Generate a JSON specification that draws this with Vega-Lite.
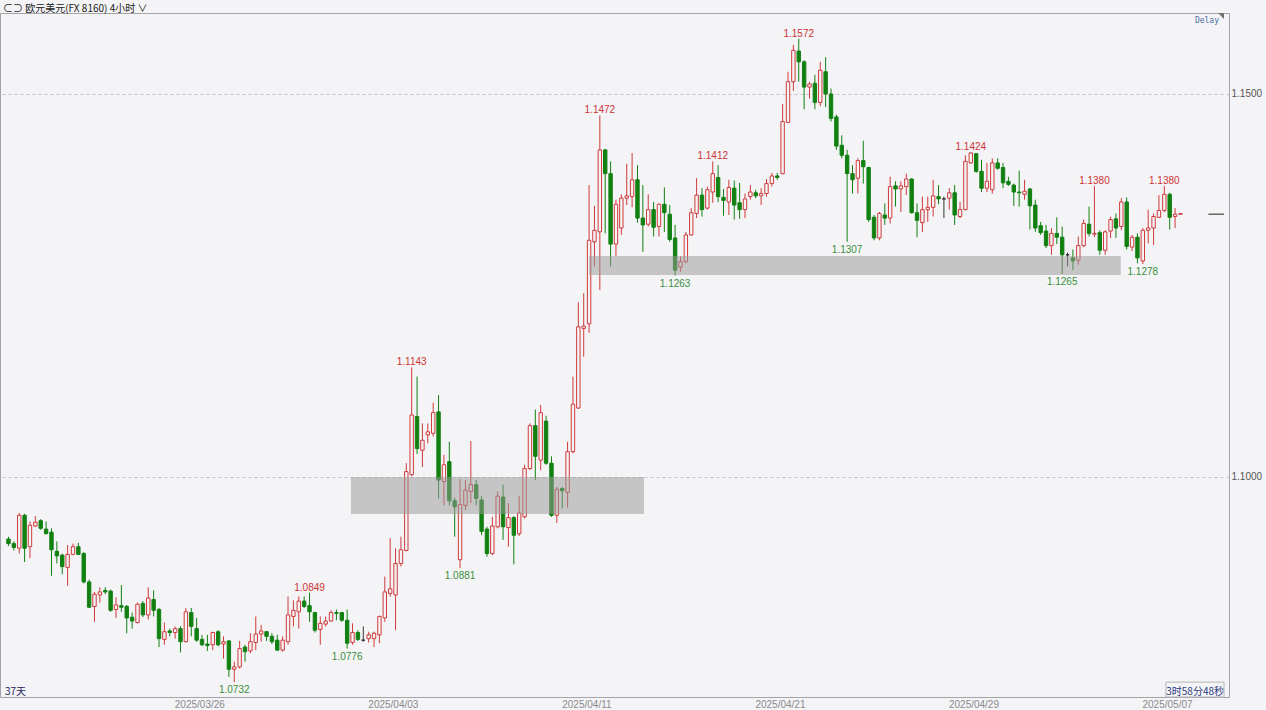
{
  "$schema": "https://vega.github.io/schema/vega-lite/v6.json",
  "width": 1229,
  "height": 684,
  "autosize": {"type": "none"},
  "padding": {"left": 0, "top": 13, "right": 37, "bottom": 13},
  "background": "#f4f4f7",
  "config": {
    "view": {"stroke": "#a4a4a8", "strokeWidth": 1},
    "font": "Liberation Sans"
  },
  "title": {
    "text": "⊂⊃ 欧元美元(FX 8160)   4小时 ∨",
    "anchor": "start",
    "frame": "group",
    "offset": 1,
    "dx": 3,
    "dy": 2,
    "fontSize": 10,
    "fontWeight": "normal",
    "font": "Noto Sans CJK SC",
    "color": "#222222"
  },
  "resolve": {"axis": {"x": "independent", "y": "independent"}},
  "datasets": {
    "candles": [
      {"i":0,"o":1.0919,"h":1.0922,"l":1.0910,"c":1.0913},
      {"i":1,"o":1.0913,"h":1.0916,"l":1.0904,"c":1.0908},
      {"i":2,"o":1.0907,"h":1.0953,"l":1.0900,"c":1.0950},
      {"i":3,"o":1.0950,"h":1.0952,"l":1.0889,"c":1.0907},
      {"i":4,"o":1.0909,"h":1.0942,"l":1.0894,"c":1.0937},
      {"i":5,"o":1.0936,"h":1.0949,"l":1.0935,"c":1.0941},
      {"i":6,"o":1.0943,"h":1.0945,"l":1.0931,"c":1.0933},
      {"i":7,"o":1.0932,"h":1.0942,"l":1.0925,"c":1.0926},
      {"i":8,"o":1.0928,"h":1.0933,"l":1.0871,"c":1.0905},
      {"i":9,"o":1.0903,"h":1.0916,"l":1.0887,"c":1.0897},
      {"i":10,"o":1.0898,"h":1.0900,"l":1.0873,"c":1.0883},
      {"i":11,"o":1.0882,"h":1.0911,"l":1.0858,"c":1.0899},
      {"i":12,"o":1.0899,"h":1.0913,"l":1.0898,"c":1.0909},
      {"i":13,"o":1.0909,"h":1.0914,"l":1.0898,"c":1.0899},
      {"i":14,"o":1.0900,"h":1.0902,"l":1.0861,"c":1.0863},
      {"i":15,"o":1.0863,"h":1.0866,"l":1.0829,"c":1.0830},
      {"i":16,"o":1.0831,"h":1.0850,"l":1.0811,"c":1.0847},
      {"i":17,"o":1.0846,"h":1.0856,"l":1.0836,"c":1.0850},
      {"i":18,"o":1.0852,"h":1.0856,"l":1.0847,"c":1.0850},
      {"i":19,"o":1.0851,"h":1.0853,"l":1.0824,"c":1.0826},
      {"i":20,"o":1.0827,"h":1.0843,"l":1.0816,"c":1.0833},
      {"i":21,"o":1.0832,"h":1.0859,"l":1.0824,"c":1.0830},
      {"i":22,"o":1.0831,"h":1.0833,"l":1.0796,"c":1.0816},
      {"i":23,"o":1.0817,"h":1.0823,"l":1.0802,"c":1.0812},
      {"i":24,"o":1.0810,"h":1.0836,"l":1.0809,"c":1.0834},
      {"i":25,"o":1.0835,"h":1.0838,"l":1.0817,"c":1.0820},
      {"i":26,"o":1.0820,"h":1.0856,"l":1.0814,"c":1.0842},
      {"i":27,"o":1.0840,"h":1.0852,"l":1.0818,"c":1.0826},
      {"i":28,"o":1.0827,"h":1.0829,"l":1.0778,"c":1.0789},
      {"i":29,"o":1.0788,"h":1.0810,"l":1.0781,"c":1.0798},
      {"i":30,"o":1.0799,"h":1.0802,"l":1.0792,"c":1.0797},
      {"i":31,"o":1.0797,"h":1.0805,"l":1.0789,"c":1.0802},
      {"i":32,"o":1.0802,"h":1.0805,"l":1.0771,"c":1.0785},
      {"i":33,"o":1.0785,"h":1.0829,"l":1.0784,"c":1.0824},
      {"i":34,"o":1.0823,"h":1.0829,"l":1.0792,"c":1.0805},
      {"i":35,"o":1.0802,"h":1.0816,"l":1.0785,"c":1.0787},
      {"i":36,"o":1.0788,"h":1.0794,"l":1.0779,"c":1.0781},
      {"i":37,"o":1.0782,"h":1.0794,"l":1.0773,"c":1.0780},
      {"i":38,"o":1.0781,"h":1.0798,"l":1.0774,"c":1.0797},
      {"i":39,"o":1.0798,"h":1.0800,"l":1.0779,"c":1.0781},
      {"i":40,"o":1.0782,"h":1.0792,"l":1.0763,"c":1.0785},
      {"i":41,"o":1.0786,"h":1.0787,"l":1.0739,"c":1.0749},
      {"i":42,"o":1.0749,"h":1.0759,"l":1.0732,"c":1.0752},
      {"i":43,"o":1.0752,"h":1.0786,"l":1.0750,"c":1.0776},
      {"i":44,"o":1.0778,"h":1.0781,"l":1.0759,"c":1.0772},
      {"i":45,"o":1.0773,"h":1.0796,"l":1.0770,"c":1.0785},
      {"i":46,"o":1.0784,"h":1.0818,"l":1.0774,"c":1.0795},
      {"i":47,"o":1.0795,"h":1.0807,"l":1.0785,"c":1.0799},
      {"i":48,"o":1.0798,"h":1.0799,"l":1.0786,"c":1.0792},
      {"i":49,"o":1.0792,"h":1.0796,"l":1.0782,"c":1.0785},
      {"i":50,"o":1.0787,"h":1.0794,"l":1.0773,"c":1.0774},
      {"i":51,"o":1.0774,"h":1.0792,"l":1.0772,"c":1.0787},
      {"i":52,"o":1.0785,"h":1.0844,"l":1.0781,"c":1.0820},
      {"i":53,"o":1.0818,"h":1.0839,"l":1.0805,"c":1.0826},
      {"i":54,"o":1.0824,"h":1.0844,"l":1.0802,"c":1.0838},
      {"i":55,"o":1.0838,"h":1.0844,"l":1.0829,"c":1.0831},
      {"i":56,"o":1.0832,"h":1.0849,"l":1.0811,"c":1.0824},
      {"i":57,"o":1.0823,"h":1.0824,"l":1.0797,"c":1.0800},
      {"i":58,"o":1.0801,"h":1.0818,"l":1.0781,"c":1.0809},
      {"i":59,"o":1.0808,"h":1.0818,"l":1.0805,"c":1.0812},
      {"i":60,"o":1.0812,"h":1.0826,"l":1.0811,"c":1.0823},
      {"i":61,"o":1.0823,"h":1.0827,"l":1.0813,"c":1.0822},
      {"i":62,"o":1.0823,"h":1.0824,"l":1.0811,"c":1.0813},
      {"i":63,"o":1.0813,"h":1.0827,"l":1.0776,"c":1.0783},
      {"i":64,"o":1.0784,"h":1.0809,"l":1.0781,"c":1.0797},
      {"i":65,"o":1.0797,"h":1.0800,"l":1.0786,"c":1.0788},
      {"i":66,"o":1.0787,"h":1.0805,"l":1.0785,"c":1.0787},
      {"i":67,"o":1.0789,"h":1.0798,"l":1.0784,"c":1.0794},
      {"i":68,"o":1.0789,"h":1.0798,"l":1.0778,"c":1.0796},
      {"i":69,"o":1.0794,"h":1.0819,"l":1.0783,"c":1.0818},
      {"i":70,"o":1.0816,"h":1.0870,"l":1.0811,"c":1.0850},
      {"i":71,"o":1.0848,"h":1.0920,"l":1.0844,"c":1.0854},
      {"i":72,"o":1.0846,"h":1.0907,"l":1.0800,"c":1.0887},
      {"i":73,"o":1.0887,"h":1.0922,"l":1.0883,"c":1.0905},
      {"i":74,"o":1.0904,"h":1.1018,"l":1.0903,"c":1.1007},
      {"i":75,"o":1.1003,"h":1.1143,"l":1.1001,"c":1.1081},
      {"i":76,"o":1.1079,"h":1.1131,"l":1.1030,"c":1.1037},
      {"i":77,"o":1.1035,"h":1.1070,"l":1.1013,"c":1.1048},
      {"i":78,"o":1.1055,"h":1.1070,"l":1.1044,"c":1.1059},
      {"i":79,"o":1.1057,"h":1.1097,"l":1.1053,"c":1.1084},
      {"i":80,"o":1.1085,"h":1.1107,"l":1.0972,"c":1.0996},
      {"i":81,"o":1.0994,"h":1.1029,"l":1.0963,"c":1.1016},
      {"i":82,"o":1.1020,"h":1.1046,"l":1.0963,"c":1.0969},
      {"i":83,"o":1.0969,"h":1.0973,"l":1.0922,"c":1.0961},
      {"i":84,"o":1.0892,"h":1.0997,"l":1.0881,"c":1.0964},
      {"i":85,"o":1.0963,"h":1.0996,"l":1.0957,"c":1.0983},
      {"i":86,"o":1.0981,"h":1.1047,"l":1.0966,"c":1.0990},
      {"i":87,"o":1.0990,"h":1.0996,"l":1.0963,"c":1.0972},
      {"i":88,"o":1.0970,"h":1.0975,"l":1.0924,"c":1.0929},
      {"i":89,"o":1.0932,"h":1.0935,"l":1.0896,"c":1.0900},
      {"i":90,"o":1.0900,"h":1.0948,"l":1.0898,"c":1.0936},
      {"i":91,"o":1.0935,"h":1.0981,"l":1.0933,"c":1.0975},
      {"i":92,"o":1.0974,"h":1.0990,"l":1.0918,"c":1.0935},
      {"i":93,"o":1.0934,"h":1.0966,"l":1.0909,"c":1.0947},
      {"i":94,"o":1.0947,"h":1.0949,"l":1.0886,"c":1.0924},
      {"i":95,"o":1.0926,"h":1.0975,"l":1.0923,"c":1.0953},
      {"i":96,"o":1.0948,"h":1.1016,"l":1.0946,"c":1.1011},
      {"i":97,"o":1.1011,"h":1.1070,"l":1.1009,"c":1.1067},
      {"i":98,"o":1.1067,"h":1.1088,"l":1.0996,"c":1.1027},
      {"i":99,"o":1.1022,"h":1.1094,"l":1.1009,"c":1.1084},
      {"i":100,"o":1.1073,"h":1.1080,"l":1.1016,"c":1.1018},
      {"i":101,"o":1.1018,"h":1.1027,"l":1.0948,"c":1.0950},
      {"i":102,"o":1.0950,"h":1.0987,"l":1.0940,"c":1.0984},
      {"i":103,"o":1.0985,"h":1.0987,"l":1.0959,"c":1.0982},
      {"i":104,"o":1.0980,"h":1.1046,"l":1.0960,"c":1.1033},
      {"i":105,"o":1.1033,"h":1.1131,"l":1.1031,"c":1.1095},
      {"i":106,"o":1.1090,"h":1.1228,"l":1.1089,"c":1.1196},
      {"i":107,"o":1.1194,"h":1.1240,"l":1.1157,"c":1.1197},
      {"i":108,"o":1.1200,"h":1.1381,"l":1.1188,"c":1.1309},
      {"i":109,"o":1.1307,"h":1.1354,"l":1.1275,"c":1.1322},
      {"i":110,"o":1.1320,"h":1.1472,"l":1.1244,"c":1.1427},
      {"i":111,"o":1.1427,"h":1.1428,"l":1.1318,"c":1.1396},
      {"i":112,"o":1.1396,"h":1.1412,"l":1.1275,"c":1.1304},
      {"i":113,"o":1.1304,"h":1.1362,"l":1.1288,"c":1.1356},
      {"i":114,"o":1.1325,"h":1.1369,"l":1.1316,"c":1.1364},
      {"i":115,"o":1.1364,"h":1.1409,"l":1.1355,"c":1.1367},
      {"i":116,"o":1.1366,"h":1.1423,"l":1.1352,"c":1.1388},
      {"i":117,"o":1.1388,"h":1.1407,"l":1.1332,"c":1.1338},
      {"i":118,"o":1.1338,"h":1.1381,"l":1.1294,"c":1.1329},
      {"i":119,"o":1.1330,"h":1.1369,"l":1.1327,"c":1.1349},
      {"i":120,"o":1.1349,"h":1.1359,"l":1.1314,"c":1.1326},
      {"i":121,"o":1.1327,"h":1.1357,"l":1.1314,"c":1.1356},
      {"i":122,"o":1.1356,"h":1.1378,"l":1.1320,"c":1.1345},
      {"i":123,"o":1.1343,"h":1.1355,"l":1.1307,"c":1.1310},
      {"i":124,"o":1.1312,"h":1.1329,"l":1.1263,"c":1.1270},
      {"i":125,"o":1.1274,"h":1.1288,"l":1.1268,"c":1.1281},
      {"i":126,"o":1.1281,"h":1.1320,"l":1.1279,"c":1.1316},
      {"i":127,"o":1.1316,"h":1.1351,"l":1.1315,"c":1.1345},
      {"i":128,"o":1.1344,"h":1.1390,"l":1.1338,"c":1.1368},
      {"i":129,"o":1.1368,"h":1.1377,"l":1.1340,"c":1.1349},
      {"i":130,"o":1.1351,"h":1.1379,"l":1.1349,"c":1.1375},
      {"i":131,"o":1.1372,"h":1.1412,"l":1.1358,"c":1.1396},
      {"i":132,"o":1.1391,"h":1.1407,"l":1.1359,"c":1.1366},
      {"i":133,"o":1.1365,"h":1.1376,"l":1.1341,"c":1.1361},
      {"i":134,"o":1.1359,"h":1.1388,"l":1.1342,"c":1.1378},
      {"i":135,"o":1.1377,"h":1.1387,"l":1.1336,"c":1.1355},
      {"i":136,"o":1.1358,"h":1.1384,"l":1.1337,"c":1.1349},
      {"i":137,"o":1.1349,"h":1.1370,"l":1.1338,"c":1.1363},
      {"i":138,"o":1.1366,"h":1.1381,"l":1.1362,"c":1.1372},
      {"i":139,"o":1.1371,"h":1.1375,"l":1.1364,"c":1.1367},
      {"i":140,"o":1.1367,"h":1.1377,"l":1.1355,"c":1.1370},
      {"i":141,"o":1.1370,"h":1.1389,"l":1.1366,"c":1.1383},
      {"i":142,"o":1.1383,"h":1.1397,"l":1.1379,"c":1.1393},
      {"i":143,"o":1.1393,"h":1.1397,"l":1.1388,"c":1.1391},
      {"i":144,"o":1.1396,"h":1.1487,"l":1.1395,"c":1.1464},
      {"i":145,"o":1.1463,"h":1.1529,"l":1.1462,"c":1.1516},
      {"i":146,"o":1.1516,"h":1.1564,"l":1.1504,"c":1.1557},
      {"i":147,"o":1.1556,"h":1.1572,"l":1.1516,"c":1.1542},
      {"i":148,"o":1.1542,"h":1.1544,"l":1.1480,"c":1.1509},
      {"i":149,"o":1.1509,"h":1.1516,"l":1.1494,"c":1.1513},
      {"i":150,"o":1.1514,"h":1.1525,"l":1.1480,"c":1.1489},
      {"i":151,"o":1.1489,"h":1.1542,"l":1.1484,"c":1.1531},
      {"i":152,"o":1.1529,"h":1.1548,"l":1.1483,"c":1.1500},
      {"i":153,"o":1.1500,"h":1.1507,"l":1.1464,"c":1.1468},
      {"i":154,"o":1.1470,"h":1.1473,"l":1.1427,"c":1.1432},
      {"i":155,"o":1.1433,"h":1.1446,"l":1.1416,"c":1.1420},
      {"i":156,"o":1.1420,"h":1.1427,"l":1.1307,"c":1.1396},
      {"i":157,"o":1.1396,"h":1.1407,"l":1.1370,"c":1.1388},
      {"i":158,"o":1.1390,"h":1.1416,"l":1.1370,"c":1.1413},
      {"i":159,"o":1.1413,"h":1.1439,"l":1.1383,"c":1.1405},
      {"i":160,"o":1.1404,"h":1.1405,"l":1.1333,"c":1.1336},
      {"i":161,"o":1.1339,"h":1.1342,"l":1.1309,"c":1.1312},
      {"i":162,"o":1.1312,"h":1.1346,"l":1.1309,"c":1.1344},
      {"i":163,"o":1.1342,"h":1.1357,"l":1.1329,"c":1.1338},
      {"i":164,"o":1.1338,"h":1.1392,"l":1.1331,"c":1.1379},
      {"i":165,"o":1.1380,"h":1.1386,"l":1.1353,"c":1.1376},
      {"i":166,"o":1.1376,"h":1.1386,"l":1.1346,"c":1.1380},
      {"i":167,"o":1.1379,"h":1.1396,"l":1.1368,"c":1.1389},
      {"i":168,"o":1.1389,"h":1.1390,"l":1.1344,"c":1.1345},
      {"i":169,"o":1.1345,"h":1.1357,"l":1.1313,"c":1.1335},
      {"i":170,"o":1.1332,"h":1.1366,"l":1.1320,"c":1.1349},
      {"i":171,"o":1.1349,"h":1.1366,"l":1.1333,"c":1.1352},
      {"i":172,"o":1.1352,"h":1.1388,"l":1.1340,"c":1.1367},
      {"i":173,"o":1.1366,"h":1.1381,"l":1.1356,"c":1.1363},
      {"i":174,"o":1.1363,"h":1.1366,"l":1.1338,"c":1.1363},
      {"i":175,"o":1.1364,"h":1.1377,"l":1.1349,"c":1.1371},
      {"i":176,"o":1.1371,"h":1.1381,"l":1.1329,"c":1.1342},
      {"i":177,"o":1.1340,"h":1.1359,"l":1.1338,"c":1.1349},
      {"i":178,"o":1.1349,"h":1.1420,"l":1.1348,"c":1.1412},
      {"i":179,"o":1.1410,"h":1.1424,"l":1.1409,"c":1.1423},
      {"i":180,"o":1.1422,"h":1.1423,"l":1.1397,"c":1.1399},
      {"i":181,"o":1.1399,"h":1.1414,"l":1.1372,"c":1.1377},
      {"i":182,"o":1.1377,"h":1.1410,"l":1.1372,"c":1.1386},
      {"i":183,"o":1.1375,"h":1.1416,"l":1.1370,"c":1.1410},
      {"i":184,"o":1.1410,"h":1.1416,"l":1.1401,"c":1.1403},
      {"i":185,"o":1.1404,"h":1.1410,"l":1.1377,"c":1.1384},
      {"i":186,"o":1.1386,"h":1.1392,"l":1.1380,"c":1.1382},
      {"i":187,"o":1.1381,"h":1.1383,"l":1.1354,"c":1.1372},
      {"i":188,"o":1.1372,"h":1.1400,"l":1.1353,"c":1.1371},
      {"i":189,"o":1.1369,"h":1.1388,"l":1.1362,"c":1.1373},
      {"i":190,"o":1.1376,"h":1.1377,"l":1.1323,"c":1.1354},
      {"i":191,"o":1.1355,"h":1.1362,"l":1.1320,"c":1.1325},
      {"i":192,"o":1.1328,"h":1.1333,"l":1.1316,"c":1.1319},
      {"i":193,"o":1.1321,"h":1.1329,"l":1.1299,"c":1.1302},
      {"i":194,"o":1.1302,"h":1.1325,"l":1.1290,"c":1.1318},
      {"i":195,"o":1.1318,"h":1.1339,"l":1.1304,"c":1.1313},
      {"i":196,"o":1.1313,"h":1.1327,"l":1.1265,"c":1.1290},
      {"i":197,"o":1.1290,"h":1.1293,"l":1.1275,"c":1.1290},
      {"i":198,"o":1.1286,"h":1.1297,"l":1.1270,"c":1.1282},
      {"i":199,"o":1.1283,"h":1.1314,"l":1.1277,"c":1.1302},
      {"i":200,"o":1.1302,"h":1.1336,"l":1.1300,"c":1.1331},
      {"i":201,"o":1.1330,"h":1.1353,"l":1.1314,"c":1.1318},
      {"i":202,"o":1.1317,"h":1.1380,"l":1.1313,"c":1.1318},
      {"i":203,"o":1.1319,"h":1.1322,"l":1.1290,"c":1.1296},
      {"i":204,"o":1.1296,"h":1.1322,"l":1.1290,"c":1.1320},
      {"i":205,"o":1.1321,"h":1.1340,"l":1.1312,"c":1.1336},
      {"i":206,"o":1.1337,"h":1.1344,"l":1.1312,"c":1.1325},
      {"i":207,"o":1.1327,"h":1.1364,"l":1.1322,"c":1.1359},
      {"i":208,"o":1.1359,"h":1.1365,"l":1.1297,"c":1.1301},
      {"i":209,"o":1.1300,"h":1.1316,"l":1.1295,"c":1.1313},
      {"i":210,"o":1.1313,"h":1.1318,"l":1.1279,"c":1.1286},
      {"i":211,"o":1.1282,"h":1.1325,"l":1.1278,"c":1.1322},
      {"i":212,"o":1.1322,"h":1.1349,"l":1.1305,"c":1.1325},
      {"i":213,"o":1.1325,"h":1.1344,"l":1.1303,"c":1.1340},
      {"i":214,"o":1.1339,"h":1.1368,"l":1.1338,"c":1.1348},
      {"i":215,"o":1.1348,"h":1.1380,"l":1.1346,"c":1.1369},
      {"i":216,"o":1.1369,"h":1.1371,"l":1.1323,"c":1.1339},
      {"i":217,"o":1.1340,"h":1.1351,"l":1.1325,"c":1.1343},
      {"i":218,"o":1.1343,"h":1.1344,"l":1.1343,"c":1.1344}
    ],
    "highs": [
      {"i":56,"v":1.0849},
      {"i":75,"v":1.1143},
      {"i":110,"v":1.1472},
      {"i":131,"v":1.1412},
      {"i":147,"v":1.1572},
      {"i":179,"v":1.1424},
      {"i":202,"v":1.1380},
      {"i":215,"v":1.1380}
    ],
    "lows": [
      {"i":42,"v":1.0732},
      {"i":63,"v":1.0776},
      {"i":84,"v":1.0881},
      {"i":124,"v":1.1263},
      {"i":156,"v":1.1307},
      {"i":196,"v":1.1265},
      {"i":211,"v":1.1278}
    ],
    "zones": [
      {"start":63.7,"end":118.2,"top":1.1000,"bottom":1.09517},
      {"start":108.0,"end":206.9,"top":1.12885,"bottom":1.12637}
    ]
  },
  "layer": [
    {
      "data": {"name": "candles"},
      "mark": {"type": "rule", "strokeWidth": 1},
      "encoding": {
        "x": {
          "field": "i", "type": "quantitative",
          "scale": {"domain": [-0.646, 226.1], "nice": false, "zero": false},
          "axis": {
            "values": [35.5, 71.5, 107.5, 143.5, 179.5, 215.5],
            "labelExpr": "datum.value < 50 ? '2025/03/26' : datum.value < 90 ? '2025/04/03' : datum.value < 125 ? '2025/04/11' : datum.value < 160 ? '2025/04/21' : datum.value < 200 ? '2025/04/29' : '2025/05/07'",
            "title": null, "domain": false, "ticks": false, "grid": false,
            "labelColor": "#8a8a8a", "labelFontSize": 10, "labelPadding": 2,
            "labelFont": "Liberation Sans"
          }
        },
        "y": {
          "field": "l", "type": "quantitative",
          "scale": {"domain": [1.07128, 1.16057], "nice": false, "zero": false},
          "axis": {
            "orient": "right", "values": [1.10, 1.15], "format": ".4f",
            "title": null, "domain": false, "ticks": false,
            "grid": true, "gridColor": "#c4c4c8", "gridDash": [3, 3], "gridWidth": 1,
            "labelColor": "#555555", "labelFontSize": 10, "labelPadding": 2,
            "labelAlign": "left", "labelFont": "Liberation Sans"
          }
        },
        "y2": {"field": "h"},
        "stroke": {
          "condition": [
            {"test": "datum.c > datum.o", "value": "#d03a3a"},
            {"test": "datum.c < datum.o", "value": "#118011"}
          ],
          "value": "#333333"
        }
      }
    },
    {
      "data": {"name": "candles"},
      "mark": {"type": "bar", "size": 3.4, "strokeWidth": 1},
      "encoding": {
        "x": {"field": "i", "type": "quantitative", "axis": null},
        "y": {"field": "o", "type": "quantitative", "axis": null},
        "y2": {"field": "c"},
        "fill": {
          "condition": [
            {"test": "datum.c > datum.o", "value": "#f4f4f7"},
            {"test": "datum.c < datum.o", "value": "#118011"}
          ],
          "value": "#333333"
        },
        "stroke": {
          "condition": [
            {"test": "datum.c > datum.o", "value": "#d03a3a"},
            {"test": "datum.c < datum.o", "value": "#118011"}
          ],
          "value": "#333333"
        }
      }
    },
    {
      "data": {"name": "zones"},
      "mark": {"type": "rect", "fill": "#9a9a9a", "opacity": 0.52},
      "encoding": {
        "x": {"field": "start", "type": "quantitative", "axis": null},
        "x2": {"field": "end"},
        "y": {"field": "top", "type": "quantitative", "axis": null},
        "y2": {"field": "bottom"}
      }
    },
    {
      "data": {"name": "highs"},
      "mark": {"type": "text", "color": "#cc3333", "fontSize": 10, "baseline": "alphabetic", "dy": -2, "font": "Liberation Sans"},
      "encoding": {
        "x": {"field": "i", "type": "quantitative", "axis": null},
        "y": {"field": "v", "type": "quantitative", "axis": null},
        "text": {"field": "v", "type": "quantitative", "format": ".4f"}
      }
    },
    {
      "data": {"name": "lows"},
      "mark": {"type": "text", "color": "#3a8f3a", "fontSize": 10, "baseline": "alphabetic", "dy": 11, "font": "Liberation Sans"},
      "encoding": {
        "x": {"field": "i", "type": "quantitative", "axis": null},
        "y": {"field": "v", "type": "quantitative", "axis": null},
        "text": {"field": "v", "type": "quantitative", "format": ".4f"}
      }
    },
    {
      "data": {"values": [{"price": 1.1343}]},
      "mark": {"type": "rule", "stroke": "#666666", "strokeWidth": 1.5},
      "encoding": {
        "x": {"datum": 223.2, "type": "quantitative", "axis": null},
        "x2": {"datum": 226.1},
        "y": {"field": "price", "type": "quantitative", "axis": null}
      }
    },
    {
      "data": {"values": [{"label": "Delay"}]},
      "mark": {"type": "text", "color": "#4a6aa0", "fontSize": 8, "font": "DejaVu Sans Mono", "align": "right", "baseline": "top", "dx": -5, "dy": 4},
      "encoding": {
        "x": {"datum": 226.1, "type": "quantitative", "axis": null},
        "y": {"datum": 1.16057, "type": "quantitative", "axis": null},
        "text": {"field": "label"}
      }
    },
    {
      "data": {"values": [{"corner": "flag"}]},
      "mark": {"type": "point", "shape": "M-2,0L0,0L0,2Z", "size": 36, "filled": true, "color": "#707070", "opacity": 1},
      "encoding": {
        "x": {"datum": 226.1, "type": "quantitative", "axis": null},
        "y": {"datum": 1.16057, "type": "quantitative", "axis": null}
      }
    },
    {
      "data": {"values": [{"label": "37天"}]},
      "mark": {"type": "text", "color": "#1c1c5c", "fontSize": 10, "font": "Noto Sans CJK SC", "align": "left", "baseline": "bottom", "dx": 0, "dy": 0},
      "encoding": {
        "x": {"datum": -0.646, "type": "quantitative", "axis": null},
        "y": {"datum": 1.07128, "type": "quantitative", "axis": null},
        "text": {"field": "label"}
      }
    },
    {
      "data": {"values": [{"label": "3时58分48秒"}]},
      "mark": {"type": "rect", "fill": "#f4f4f7", "stroke": "#b4b4b8", "strokeWidth": 1},
      "encoding": {
        "x": {"datum": 215.3, "type": "quantitative", "axis": null},
        "x2": {"datum": 226.1},
        "y": {"datum": 1.07322, "type": "quantitative", "axis": null},
        "y2": {"datum": 1.07128}
      }
    },
    {
      "data": {"values": [{"label": "3时58分48秒"}]},
      "mark": {"type": "text", "color": "#2a3a80", "fontSize": 10, "font": "Noto Sans CJK SC", "align": "right", "baseline": "bottom", "dx": 0, "dy": 0},
      "encoding": {
        "x": {"datum": 226.1, "type": "quantitative", "axis": null},
        "y": {"datum": 1.07128, "type": "quantitative", "axis": null},
        "text": {"field": "label"}
      }
    }
  ]
}
